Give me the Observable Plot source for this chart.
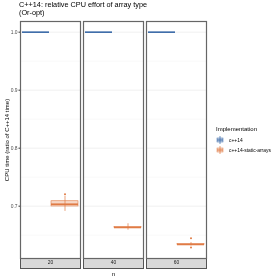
<!DOCTYPE html>
<html><head><meta charset="utf-8">
<script src="https://cdn.jsdelivr.net/npm/d3@7"></script>
<script src="https://cdn.jsdelivr.net/npm/@observablehq/plot@0.6"></script>
<style>
body{margin:0;background:#fff;}
#wrap{position:relative;width:280px;height:280px;font-family:"Liberation Sans",Arial,sans-serif;overflow:hidden;}
#title{position:absolute;left:19px;top:1px;font-size:7.3px;line-height:8.3px;color:#000;white-space:nowrap;filter:grayscale(1);}
#ylab{position:absolute;left:7px;top:139.5px;font-size:6px;color:#000;white-space:nowrap;transform:translate(-50%,-50%) rotate(-90deg);filter:grayscale(1);}
#legend{position:absolute;left:216px;top:126px;font-size:4.9px;color:#000;white-space:nowrap;}
#legend .lt{font-size:6px;margin-bottom:3px;filter:grayscale(1);}
#legend .it{display:flex;align-items:center;height:10px;}
#legend span{filter:grayscale(1);}
#legend svg{margin-right:5px;}
svg text{filter:grayscale(1);}
</style></head><body>
<div id="wrap"><div id="chart"></div>
<div id="title">C++14: relative CPU effort of array type<br>(Or-opt)</div>
<div id="ylab">CPU time (ratio of C++14 time)</div>
<div id="legend"></div></div>
<script>
const nValues = [20, 40, 60];
const impls = ["c++14", "c++14-static-arrays"];
const implColors = ["#3a6aa8", "#e07b45"];
const yMajor = [0.7, 0.8, 0.9, 1.0];
const yMinor = [0.65, 0.75, 0.85, 0.95];
const yDomain = [0.6098, 1.0184];

// box statistics per (implementation, n)
const boxN    = [20, 40, 60, 20, 40, 60];
const boxImpl = ["c++14", "c++14", "c++14", "c++14-static-arrays", "c++14-static-arrays", "c++14-static-arrays"];
const boxLo   = [1.0, 1.0, 1.0, 0.691, 0.6586, 0.6315];
const boxQ1   = [1.0, 1.0, 1.0, 0.6995, 0.6626, 0.6333];
const boxMed  = [1.0, 1.0, 1.0, 0.7034, 0.6633, 0.6340];
const boxQ3   = [1.0, 1.0, 1.0, 0.7085, 0.6641, 0.6348];
const boxHi   = [1.0, 1.0, 1.0, 0.717, 0.6697, 0.6372];

const outN    = [20, 60, 60];
const outImpl = ["c++14-static-arrays", "c++14-static-arrays", "c++14-static-arrays"];
const outVal  = [0.7207, 0.6448, 0.6288];

const boxes = boxN.map((n, i) => ({n, impl: boxImpl[i], lo: boxLo[i], q1: boxQ1[i], med: boxMed[i], q3: boxQ3[i], hi: boxHi[i]}));
const outliers = outN.map((n, i) => ({n, impl: outImpl[i], v: outVal[i]}));

const chart = Plot.plot({
  width: 280, height: 280,
  marginTop: 21, marginBottom: 22, marginLeft: 20, marginRight: 73.5,
  style: {fontFamily: "'Liberation Sans', Arial, sans-serif", fontSize: "4.9px", background: "white", color: "#000"},
  fx: {domain: nValues, paddingInner: 0.05, paddingOuter: 0, label: null},
  x: {domain: impls, paddingInner: 0.07, paddingOuter: 0.05, axis: null},
  y: {domain: yDomain, axis: null},
  color: {domain: impls, range: implColors},
  marks: [
    Plot.gridY(yMinor, {stroke: "#f3f3f3", strokeOpacity: 1, strokeWidth: 0.4}),
    Plot.gridY(yMajor, {stroke: "#ebebeb", strokeOpacity: 1, strokeWidth: 0.7}),
    Plot.ruleX(boxes, {fx: "n", x: "impl", y1: "lo", y2: "hi", stroke: "impl", strokeWidth: 0.7}),
    Plot.barY(boxes, {fx: "n", x: "impl", y1: "q1", y2: "q3", fill: "impl", fillOpacity: 0.3, stroke: "impl", strokeWidth: 0.6}),
    Plot.tickY(boxes, {fx: "n", x: "impl", y: "med", stroke: "impl", strokeWidth: 1.6}),
    Plot.dot(outliers, {fx: "n", x: "impl", y: "v", r: 1, fill: "impl", stroke: null}),
    Plot.frame({fill: "#d9d9d9", stroke: "#555", strokeWidth: 1, insetTop: 237, insetBottom: -10}),
    Plot.frame({stroke: "#666", strokeWidth: 1.2}),
    Plot.axisY(yMajor, {tickFormat: d => d.toFixed(1), tickSize: 1.5, tickPadding: 1.5, stroke: "#333", fill: "#4d4d4d", fontSize: 4.9, label: null}),
    Plot.axisFx({anchor: "bottom", tickSize: 0, tickPadding: 2.5, fontSize: 4.9, fill: "#1a1a1a",
      label: "n", labelAnchor: "center", labelOffset: 17})
  ]
});
document.getElementById("chart").appendChild(chart);
chart.querySelectorAll("[aria-label='fx-axis label'] text").forEach(t => { t.style.fontSize = "6px"; t.setAttribute("fill", "#000"); });

// legend
const leg = document.getElementById("legend");
const lt = document.createElement("div"); lt.className = "lt"; lt.textContent = "Implementation"; leg.appendChild(lt);
impls.forEach((name, i) => {
  const c = implColors[i];
  const it = document.createElement("div"); it.className = "it";
  it.innerHTML = `<svg width="8" height="8"><line x1="4" x2="4" y1="0" y2="8" stroke="${c}" stroke-width="0.7"/><rect x="1" y="2" width="6" height="4" fill="${c}" fill-opacity="0.3" stroke="${c}" stroke-width="0.5"/><line x1="1" x2="7" y1="4" y2="4" stroke="${c}" stroke-width="1"/></svg><span>${name}</span>`;
  leg.appendChild(it);
});
</script>
</body></html>
